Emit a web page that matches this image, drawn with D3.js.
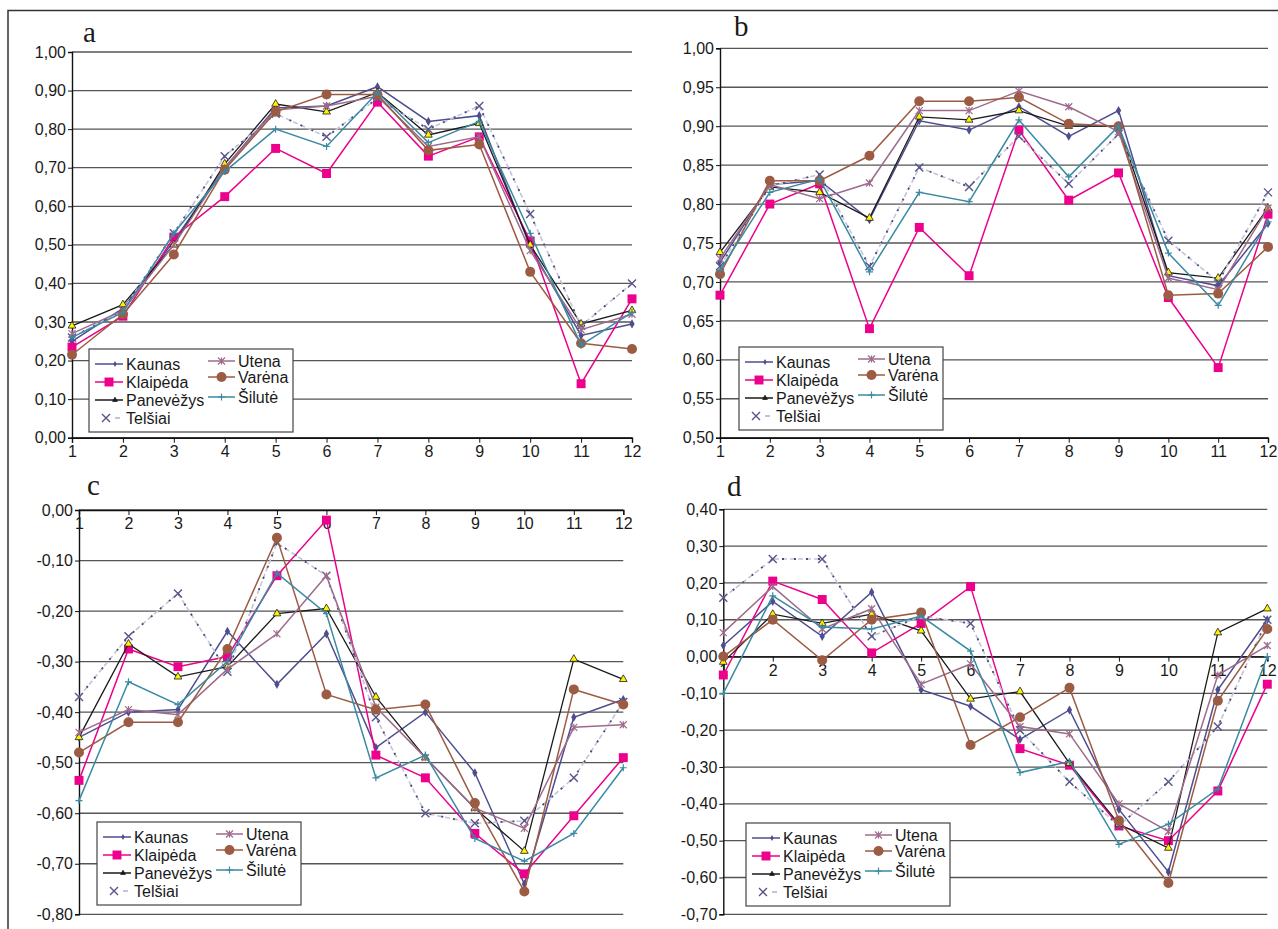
<!DOCTYPE html>
<html>
<head>
<meta charset="utf-8">
<script src="https://cdn.jsdelivr.net/npm/d3@7"></script>
<style>
  body { margin: 0; background: #fff; }
  svg { display: block; }
  .tick text { font-family: "Liberation Sans", Arial, sans-serif; font-size: 16px; fill: #1a1a1a; }
  .leg text { font-family: "Liberation Sans", Arial, sans-serif; font-size: 16px; fill: #1a1a1a; }
  .plabel { font-family: "Liberation Serif", "Times New Roman", serif; font-size: 29px; fill: #1a1a1a; }
</style>
</head>
<body>
<svg id="chart" width="1278" height="929"></svg>
<script>
// months on x axis
const months = d3.range(1, 13);
const seriesNames = ["Kaunas", "Klaipėda", "Panevėžys", "Telšiai", "Utena", "Varėna", "Šilutė"];
const seriesColors = ["#4d4d8f", "#ec008c", "#1a1a1a", "#55558a", "#9e6b8c", "#9c5b43", "#3a8aa3"];

// series values, same order as seriesNames
const valuesA = [
  [0.25, 0.335, 0.51, 0.70, 0.855, 0.86, 0.91, 0.82, 0.835, 0.495, 0.265, 0.295],
  [0.235, 0.315, 0.52, 0.625, 0.75, 0.685, 0.87, 0.73, 0.78, 0.51, 0.14, 0.36],
  [0.29, 0.345, 0.50, 0.71, 0.865, 0.845, 0.895, 0.785, 0.815, 0.50, 0.295, 0.33],
  [0.26, 0.33, 0.53, 0.73, 0.84, 0.78, 0.88, 0.80, 0.86, 0.58, 0.29, 0.40],
  [0.27, 0.33, 0.50, 0.70, 0.85, 0.86, 0.885, 0.755, 0.78, 0.485, 0.28, 0.32],
  [0.215, 0.32, 0.475, 0.695, 0.845, 0.89, 0.89, 0.745, 0.76, 0.43, 0.245, 0.23],
  [0.26, 0.325, 0.53, 0.69, 0.80, 0.755, 0.895, 0.765, 0.82, 0.53, 0.24, 0.325]
];
const valuesB = [
  [0.725, 0.825, 0.83, 0.78, 0.907, 0.895, 0.925, 0.887, 0.92, 0.708, 0.695, 0.775],
  [0.683, 0.80, 0.826, 0.64, 0.77, 0.708, 0.895, 0.805, 0.84, 0.68, 0.59, 0.787],
  [0.738, 0.822, 0.815, 0.782, 0.912, 0.908, 0.92, 0.90, 0.90, 0.712, 0.705, 0.795],
  [0.72, 0.823, 0.838, 0.72, 0.847, 0.822, 0.887, 0.826, 0.89, 0.753, 0.70, 0.815],
  [0.73, 0.825, 0.807, 0.827, 0.92, 0.92, 0.945, 0.925, 0.893, 0.705, 0.69, 0.795],
  [0.71, 0.83, 0.83, 0.862, 0.932, 0.932, 0.937, 0.903, 0.90, 0.683, 0.685, 0.745],
  [0.715, 0.815, 0.832, 0.713, 0.815, 0.803, 0.908, 0.835, 0.90, 0.737, 0.67, 0.777]
];
const valuesC = [
  [-0.45, -0.40, -0.395, -0.24, -0.345, -0.245, -0.47, -0.40, -0.52, -0.74, -0.41, -0.375],
  [-0.535, -0.275, -0.31, -0.29, -0.13, -0.02, -0.485, -0.53, -0.64, -0.72, -0.605, -0.49],
  [-0.45, -0.265, -0.33, -0.31, -0.205, -0.195, -0.37, -0.49, -0.59, -0.675, -0.295, -0.335],
  [-0.37, -0.25, -0.165, -0.32, -0.065, -0.13, -0.41, -0.60, -0.62, -0.615, -0.53, -0.38],
  [-0.44, -0.395, -0.405, -0.315, -0.245, -0.13, -0.39, -0.49, -0.59, -0.63, -0.43, -0.425],
  [-0.48, -0.42, -0.42, -0.275, -0.055, -0.365, -0.395, -0.385, -0.58, -0.755, -0.355, -0.385],
  [-0.575, -0.34, -0.385, -0.30, -0.125, -0.205, -0.53, -0.485, -0.65, -0.695, -0.64, -0.51]
];
const valuesD = [
  [0.03, 0.15, 0.055, 0.175, -0.09, -0.135, -0.225, -0.145, -0.415, -0.585, -0.09, 0.10],
  [-0.05, 0.205, 0.155, 0.01, 0.09, 0.19, -0.25, -0.295, -0.46, -0.50, -0.365, -0.075],
  [-0.015, 0.115, 0.09, 0.115, 0.07, -0.115, -0.095, -0.29, -0.455, -0.52, 0.065, 0.13],
  [0.16, 0.265, 0.265, 0.055, 0.11, 0.09, -0.20, -0.34, -0.46, -0.34, -0.19, 0.10],
  [0.065, 0.19, 0.075, 0.13, -0.075, -0.02, -0.19, -0.21, -0.40, -0.475, -0.05, 0.03],
  [0.00, 0.10, -0.01, 0.10, 0.12, -0.24, -0.165, -0.085, -0.445, -0.615, -0.12, 0.075],
  [-0.10, 0.165, 0.08, 0.075, 0.11, 0.015, -0.315, -0.285, -0.51, -0.455, -0.36, 0.00]
];

const svg = d3.select("#chart");
const fmt = v => d3.format(".2f")(v).replace(".", ",").replace("−", "-");

// outer frame (left + top)
svg.append("path").attr("d", "M8,929 L8,10.5 L1278,10.5")
  .attr("fill", "none").attr("stroke", "#333").attr("stroke-width", 1.5);

// panel layout
const panels = [
  { name: "a", values: valuesA, domain: [0, 1], nTicks: 10, cross: 0,
    x0: 72, x1: 632, yTop: 52, yBot: 437.7, label: [83, 42], legend: [89, 349] },
  { name: "b", values: valuesB, domain: [0.5, 1], nTicks: 10, cross: 0.5,
    x0: 720, x1: 1268, yTop: 48.3, yBot: 437.7, label: [734, 36], legend: [739, 347] },
  { name: "c", values: valuesC, domain: [-0.8, 0], nTicks: 8, cross: 0,
    x0: 79, x1: 623.3, yTop: 510, yBot: 914.3, label: [87, 495], legend: [97, 822] },
  { name: "d", values: valuesD, domain: [-0.7, 0.4], nTicks: 11, cross: 0,
    x0: 723.3, x1: 1267.3, yTop: 509.3, yBot: 914.3, label: [727, 496], legend: [746, 823] }
];

// marker drawing, one per series
function drawMarker(g, i, cx, cy, legend) {
  const c = seriesColors[i];
  const s = g.append("g").attr("transform", `translate(${cx},${cy})`);
  if (i === 0) {
    s.append("path").attr("d", d3.symbol(d3.symbolDiamond, legend ? 10 : 24)()).attr("fill", c);
  } else if (i === 1) {
    s.append("path").attr("d", d3.symbol(d3.symbolSquare, 80)()).attr("fill", c);
  } else if (i === 2) {
    s.append("path").attr("d", d3.symbol(d3.symbolTriangle, legend ? 10 : 26)())
      .attr("fill", legend ? "#1a1a1a" : "#fff200").attr("stroke", "#1a1a1a").attr("stroke-width", 0.8);
  } else if (i === 3) {
    const r = 4;
    s.append("path").attr("d", `M${-r},${-r}L${r},${r}M${-r},${r}L${r},${-r}`)
      .attr("stroke", c).attr("stroke-width", 1.4).attr("fill", "none");
  } else if (i === 4) {
    const r = 3.5;
    s.append("path").attr("d", `M${-r},${-r}L${r},${r}M${-r},${r}L${r},${-r}M0,${-r}L0,${r}`)
      .attr("stroke", c).attr("stroke-width", 1.2).attr("fill", "none");
  } else if (i === 5) {
    s.append("circle").attr("r", 5).attr("fill", c);
  } else {
    const r = 3.5;
    s.append("path").attr("d", `M${-r},0L${r},0M0,${-r}L0,${r}`)
      .attr("stroke", c).attr("stroke-width", 1.2).attr("fill", "none");
  }
}

panels.forEach(p => {
  const g = svg.append("g");
  const x = d3.scaleLinear().domain([1, 12]).range([p.x0, p.x1]);
  const y = d3.scaleLinear().domain(p.domain).range([p.yBot, p.yTop]);
  const ticks = y.ticks(p.nTicks);

  // gridlines
  g.append("g").selectAll("line").data(ticks).join("line")
    .attr("x1", p.x0).attr("x2", p.x1)
    .attr("y1", d => y(d)).attr("y2", d => y(d))
    .attr("stroke", "#555").attr("stroke-width", 1.3);

  // y axis
  const ya = g.append("g").attr("transform", `translate(${p.x0},0)`)
    .call(d3.axisLeft(y).tickValues(ticks).tickSize(4).tickPadding(2).tickFormat(fmt));
  ya.select(".domain").attr("stroke", "#111").attr("stroke-width", 1.4);
  ya.selectAll(".tick line").attr("stroke", "#111");

  // x axis at crossing value
  const xa = g.append("g").attr("transform", `translate(0,${y(p.cross)})`)
    .call(d3.axisBottom(x).tickValues(months).tickSize(5).tickPadding(3).tickFormat(d3.format("d")));
  xa.select(".domain").attr("stroke", "#111").attr("stroke-width", 1.4);
  xa.selectAll(".tick line").attr("stroke", "#111");

  // series
  const line = d3.line().x((d, j) => x(months[j])).y(d => y(d));
  p.values.forEach((vals, i) => {
    const sg = g.append("g");
    if (i === 3) {
      sg.append("path").attr("d", line(vals)).attr("fill", "none")
        .attr("stroke", "#c4c4d6").attr("stroke-width", 1.6).attr("stroke-dasharray", "5,3");
      sg.append("path").attr("d", line(vals)).attr("fill", "none")
        .attr("stroke", "#4a4a80").attr("stroke-width", 1.8).attr("stroke-dasharray", "2,10");
    } else {
      sg.append("path").attr("d", line(vals)).attr("fill", "none")
        .attr("stroke", seriesColors[i]).attr("stroke-width", i === 2 ? 1.3 : 1.5);
    }
    vals.forEach((v, j) => drawMarker(sg, i, x(months[j]), y(v), false));
  });

  // panel letter
  svg.append("text").attr("class", "plabel").attr("x", p.label[0]).attr("y", p.label[1]).text(p.name);

  // legend
  const lg = svg.append("g").attr("class", "leg").attr("transform", `translate(${p.legend[0]},${p.legend[1]})`);
  lg.append("rect").attr("width", 204).attr("height", 83).attr("fill", "#fff")
    .attr("stroke", "#444").attr("stroke-width", 1.2);
  const rowsLeft = [15, 33, 51, 69];
  const rowsRight = [12, 28, 48];
  seriesNames.forEach((name, i) => {
    const left = i < 4;
    const ry = left ? rowsLeft[i] : rowsRight[i - 4];
    const lx0 = left ? 6 : 119, lx1 = left ? 34 : 146, tx = left ? 37 : 149;
    if (i === 3) {
      lg.append("line").attr("x1", 26).attr("x2", 31).attr("y1", ry).attr("y2", ry)
        .attr("stroke", "#aaaacc").attr("stroke-width", 1.4);
      drawMarker(lg, i, 17, ry, true);
    } else {
      lg.append("line").attr("x1", lx0).attr("x2", lx1).attr("y1", ry).attr("y2", ry)
        .attr("stroke", seriesColors[i]).attr("stroke-width", 1.5);
      drawMarker(lg, i, (lx0 + lx1) / 2 + (i === 0 || i === 2 ? 6 : 0), ry, true);
    }
    lg.append("text").attr("x", tx).attr("y", ry).attr("dy", "0.35em").text(name);
  });
});
</script>
</body>
</html>
